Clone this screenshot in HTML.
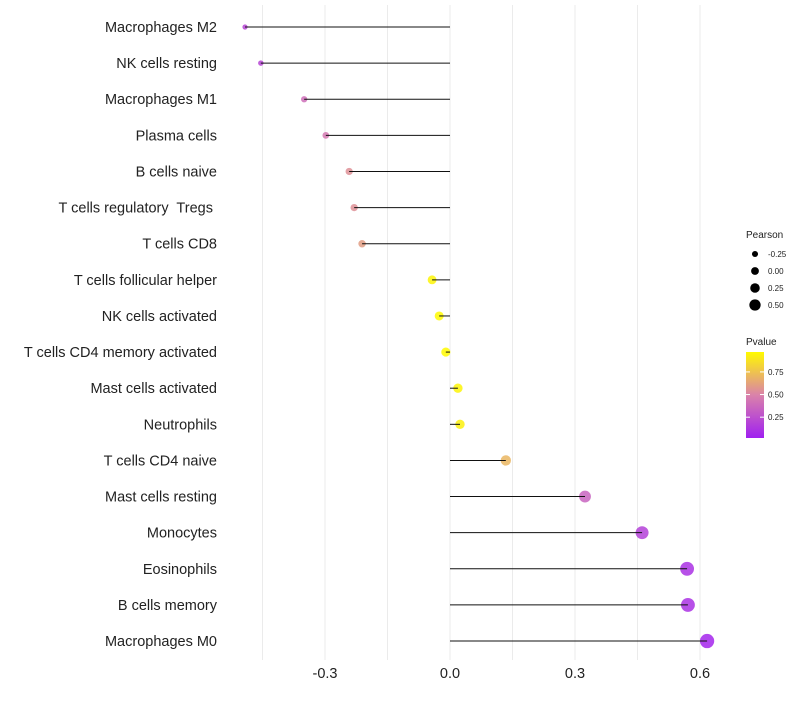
<!DOCTYPE html>
<html><head><meta charset="utf-8"><style>
body{margin:0;background:#fff;font-family:"Liberation Sans",sans-serif}
text{white-space:pre}
</style></head><body>
<svg id="c" width="800" height="700" xmlns="http://www.w3.org/2000/svg"></svg>
<script>
const categories=["Macrophages M2","NK cells resting","Macrophages M1","Plasma cells","B cells naive","T cells regulatory  Tregs ","T cells CD8","T cells follicular helper","NK cells activated","T cells CD4 memory activated","Mast cells activated","Neutrophils","T cells CD4 naive","Mast cells resting","Monocytes","Eosinophils","B cells memory","Macrophages M0"];
const pearson=[-0.492,-0.454,-0.35,-0.298,-0.242,-0.23,-0.211,-0.043,-0.026,-0.01,0.019,0.024,0.134,0.324,0.461,0.569,0.571,0.617];
const pvalue=[0.2,0.2,0.4,0.45,0.55,0.55,0.6,0.95,0.97,0.97,0.95,0.93,0.7,0.35,0.18,0.1,0.1,0.05];
const xTicks=[-0.3,0,0.3,0.6];
const xTickLabels=["-0.3","0.0","0.3","0.6"];
const sizeLegend=[-0.25,0,0.25,0.5];
const pLegend=[0.75,0.5,0.25];
const NS="http://www.w3.org/2000/svg";
const svg=document.getElementById('c');
const X=v=>450+v*416.67;
const Y=i=>27+i*36.12;
const R=p=>Math.max(2,4.6+p*4.1);
function lerp(a,b,t){return a.map((v,k)=>Math.round(v+(b[k]-v)*t));}
function col(p){const lo=[160,32,240],mid=[218,130,170],hi=[255,250,0];
 const t=Math.min(1,Math.max(0,(p-0.02)/0.95));
 const c=t<0.5?lerp(lo,mid,t*2):lerp(mid,hi,(t-0.5)*2);return `rgb(${c})`;}
function el(t,a,txt){const e=document.createElementNS(NS,t);for(const k in a)e.setAttribute(k,a[k]);if(txt!==undefined)e.textContent=txt;svg.appendChild(e);return e;}
for(let v=-0.45;v<0.7;v+=0.15){const g=el('line',{x1:X(v),x2:X(v),y1:5,y2:660,stroke:'#ebebeb','stroke-width':1});

}
xTicks.forEach((v,i)=>{const t=el('text',{x:X(v),y:678,'text-anchor':'middle','font-size':14.5,fill:'#222'},xTickLabels[i]);

});
categories.forEach((c,i)=>{
 const t=el('text',{x:217,y:Y(i)+5,'text-anchor':'end','font-size':14.5,fill:'#222'},c);
 
 
 const p=el('circle',{cx:X(pearson[i]),cy:Y(i),r:R(pearson[i]),fill:col(pvalue[i]),'fill-opacity':0.85});
 
 
 const l=el('line',{x1:X(0),x2:X(pearson[i]),y1:Y(i),y2:Y(i),stroke:'#111','stroke-width':1});
 
 
});
let t=el('text',{x:746,y:238,'font-size':10,fill:'#222'},'Pearson');


sizeLegend.forEach((v,i)=>{const y=254+i*17;
 const c=el('circle',{cx:755,cy:y,r:R(v)*0.85,fill:'#000'});
 
 
 const tx=el('text',{x:768,y:y+3,'font-size':8,fill:'#222'},v.toFixed(2));
 
 });
t=el('text',{x:746,y:345,'font-size':10,fill:'#222'},'Pvalue');


const defs=el('defs',{});const lg=document.createElementNS(NS,'linearGradient');lg.setAttribute('id','g');lg.setAttribute('x1',0);lg.setAttribute('y1',1);lg.setAttribute('x2',0);lg.setAttribute('y2',0);defs.appendChild(lg);
[0,0.25,0.5,0.75,1].forEach(o=>{const s=document.createElementNS(NS,'stop');s.setAttribute('offset',o);s.setAttribute('stop-color',col(0.02+o*0.95));lg.appendChild(s);});
const bar=el('rect',{x:746,y:352,width:18,height:86,fill:'url(#g)'});


pLegend.forEach(v=>{const y=352+(0.97-v)/0.95*86;
 el('line',{x1:746,x2:750,y1:y,y2:y,stroke:'#fff'});el('line',{x1:760,x2:764,y1:y,y2:y,stroke:'#fff'});
 const tx=el('text',{x:768,y:y+3,'font-size':8,fill:'#222'},v.toFixed(2));
 
 });
</script>
</body></html>
